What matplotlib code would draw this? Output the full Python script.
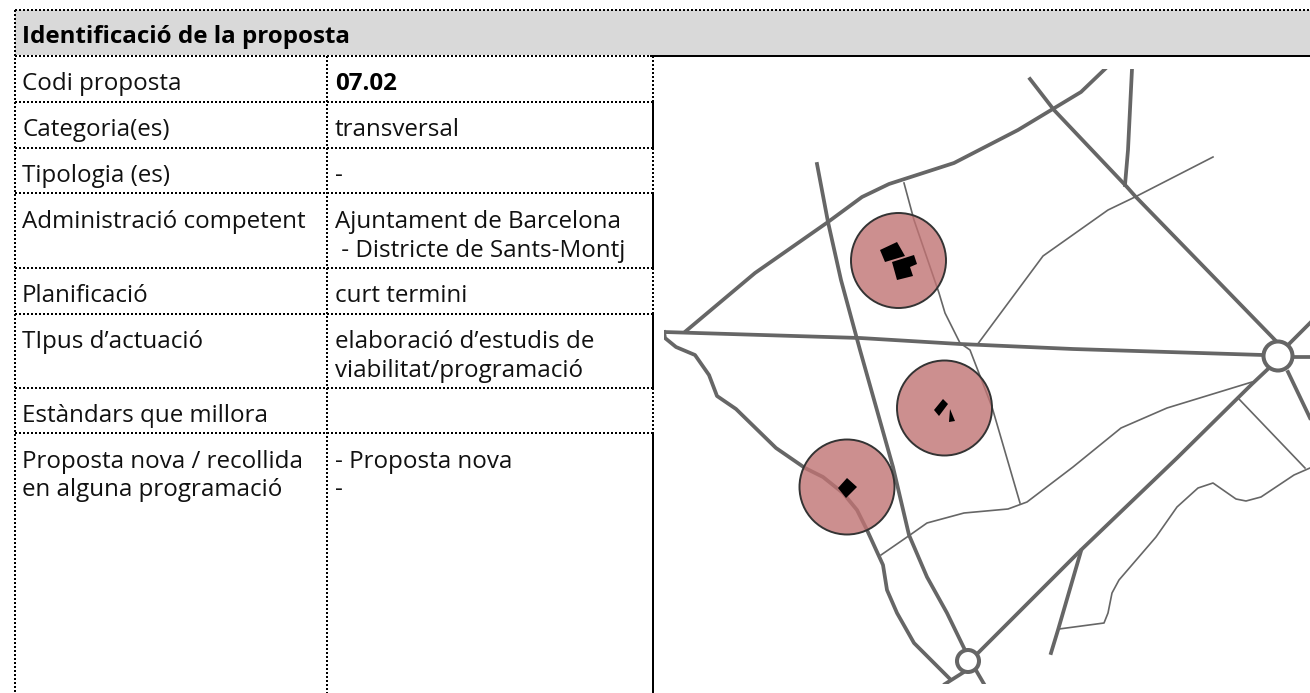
import matplotlib
matplotlib.use('Agg')
import matplotlib.pyplot as plt
from matplotlib.patches import Circle, Polygon, Rectangle

#####################################
# table

title = 'Identificació de la proposta'

labels = [
    ('Codi proposta', 89.5), ('Categoria(es)', 136.5), ('Tipologia (es)', 182.5),
    ('Administració competent', 228.5), ('Planificació', 302.5), ('TIpus d’actuació', 348.5),
    ('Estàndars que millora', 422.5), ('Proposta nova / recollida', 468), ('en alguna programació', 495.5),
]

values = [
    ('transversal', 136.5, 335), ('-', 182.5, 335), ('Ajuntament de Barcelona', 228.5, 335),
    (' - Districte de Sants-Montj', 257, 335), ('curt termini', 302.5, 335),
    ('elaboració d’estudis de', 348.5, 335), ('viabilitat/programació', 377, 335),
    ('- Proposta nova', 468, 335), ('-', 495.5, 335),
]

row_lines = [102, 147.5, 193, 268, 313.5, 387.5, 433]
solid_spans = [(102, 147.5), (193, 268), (313.5, 387.5), (433, 693)]
dotted_spans = [(56, 102), (147.5, 193), (268, 313.5), (387.5, 433)]

#####################################
# map, in picture pixels

main_roads = [
    [(686, 331), (755, 273), (828, 222), (862, 197), (889, 184), (954, 163), (1018, 130), (1081, 92), (1105, 69)],
    [(817, 164), (828, 222), (841, 280), (860, 350), (893, 467), (909, 535), (927, 577), (947, 613), (964, 648), (977, 672), (984, 684)],
    [(664, 332), (860, 338), (960, 344), (1073, 349), (1263, 355), (1294, 357), (1310, 357)],
    [(1030, 79), (1054, 110), (1127, 187), (1135, 196), (1275, 340)],
    [(1132, 69), (1128, 150), (1125, 185)],
    [(664, 332), (665, 338), (676, 347), (695, 355), (709, 375), (717, 396), (736, 409), (776, 448), (805, 468),
     (823, 477), (843, 493), (857, 510), (867, 530), (883, 565), (887, 590), (897, 613), (914, 643), (949, 678)],
    [(979, 652), (1081, 550), (1177, 458), (1252, 384), (1269, 368)],
    [(964, 672), (945, 684)],
    [(1290, 343), (1310, 323)],
    [(1288, 372), (1310, 418)],
    [(1081, 551), (1058, 630), (1051, 653)],
]

thin_roads = [
    [(904, 183), (914, 220), (939, 293), (945, 313), (960, 343), (970, 350), (992, 407), (1020, 503)],
    [(977, 345), (1043, 256), (1108, 210), (1135, 197), (1213, 157)],
    [(881, 555), (910, 535), (927, 523), (964, 513), (1008, 509), (1027, 502), (1073, 467), (1121, 428), (1167, 408), (1252, 382)],
    [(1238, 398), (1305, 468)],
    [(1310, 468), (1294, 475), (1261, 497), (1246, 501), (1236, 499), (1213, 483), (1198, 488), (1177, 507),
     (1156, 537), (1119, 580), (1112, 593), (1108, 613), (1104, 623), (1089, 625), (1059, 629)],
]

zones = [(898.5, 260.5), (944.5, 408), (847, 487)]
zone_radius = 47.5

roundabouts = [(1278, 356, 14.5), (968, 661, 11)]

buildings = [
    [(880, 250), (897, 242), (905, 256), (885, 262)],
    [(892, 262), (914, 255), (917, 264), (910, 267), (913, 276), (897, 280)],
    [(943, 399), (948, 404), (939, 416), (934, 410)],
    [(950, 409), (955, 421), (949, 422)],
    [(847, 478), (857, 487), (846, 498), (838, 488)],
]

#####################################

plt.rcParams['font.family'] = ['Open Sans', 'DejaVu Sans']

fig = plt.figure(figsize=(13.1, 6.93), dpi=100)
ax = fig.add_axes([0, 0, 1, 1])
ax.set_xlim(0, 1310)
ax.set_ylim(693, 0)
ax.axis('off')

FS = 17.4
DOT = dict(color='black', lw=1.44, ls=(0, (1, 1)), dash_capstyle='butt', solid_capstyle='butt')
LINE = dict(color='black', lw=1.44, solid_capstyle='butt')

# header
ax.add_patch(Rectangle((15, 10), 1295, 45, fc='#d9d9d9', ec='none'))
ax.plot([15, 1310], [10, 10], **DOT)
ax.plot([15, 15], [10, 693], **DOT)
ax.plot([15, 650], [55.7, 55.7], **DOT)
ax.plot([650, 1310], [55.7, 55.7], **LINE)
ax.plot([326.5, 326.5], [56, 693], **DOT)
for y in row_lines:
    ax.plot([15, 652], [y, y], **DOT)
for y0, y1 in solid_spans:
    ax.plot([652.7, 652.7], [y0, y1], **LINE)
for y0, y1 in dotted_spans:
    ax.plot([652.7, 652.7], [y0, y1], **DOT)

ax.text(22, 43, title, fontsize=FS, fontweight='bold', va='baseline')
ax.text(335, 89.5, '07.02', fontsize=FS, fontweight='bold', va='baseline')
for s, y in labels:
    ax.text(22, y, s, fontsize=FS, va='baseline', color='#111111')
for s, y, x in values:
    ax.text(x, y, s, fontsize=FS, va='baseline', color='#111111')

# map
clip = Rectangle((664, 69), 646, 615, transform=ax.transData)
for road in main_roads:
    xs, ys = zip(*road)
    line, = ax.plot(xs, ys, color='#666666', lw=2.7, solid_joinstyle='round', zorder=2)
    line.set_clip_path(clip)
for road in thin_roads:
    xs, ys = zip(*road)
    line, = ax.plot(xs, ys, color='#666666', lw=1.2, solid_joinstyle='round', zorder=2)
    line.set_clip_path(clip)

for x, y, r in roundabouts:
    ax.add_patch(Circle((x, y), r, fc='white', ec='#666666', lw=2.9, zorder=3))

for x, y in zones:
    ax.add_patch(Circle((x, y), zone_radius, fc=(192/255, 115/255, 115/255, 0.8), ec='#333333', lw=1.4, zorder=4))

for b in buildings:
    ax.add_patch(Polygon(b, closed=True, fc='black', ec='none', zorder=5))

fig.savefig('out.png', dpi=100)
